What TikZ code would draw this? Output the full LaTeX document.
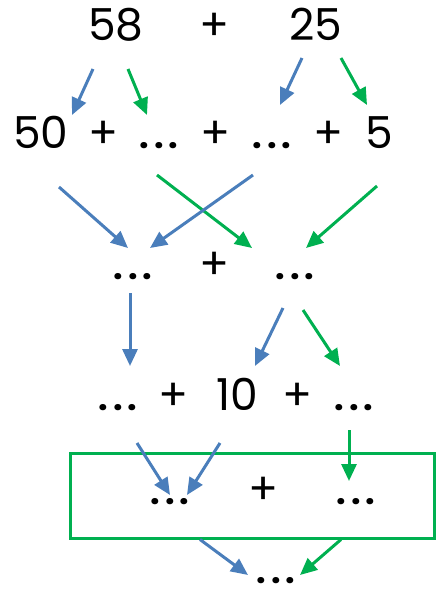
\documentclass[tikz,border=0pt]{standalone}
\usepackage{fontspec}
\setmainfont{Poppins}
\usetikzlibrary{arrows.meta, positioning}

\newcommand\dotgap{\hspace{5pt}}

\begin{document}
\begin{tikzpicture}[x=1pt, y=-1pt,
        every node/.style={font=\fontsize{44}{44}\selectfont, inner sep=0pt, anchor=base},
        every edge/.style={draw, line width=3, -{Triangle[length=17pt,width=15pt]}},
        blue arrow/.style={color=arrowblue},
        green arrow/.style={color=arrowgreen},
        gap/.style={font=\fontsize{34}{34}\selectfont\bfseries},
        sumbox/.style={draw=arrowgreen, line width=3, minimum width=364, minimum height=85, anchor=center},]

        \definecolor{arrowblue}{RGB}{74, 126, 187}
        \definecolor{arrowgreen}{RGB}{0, 176, 80}

        \useasboundingbox (0,0) rectangle (445,590);

        % first row
        \node (n58) at (116,40) {58};
        \node (p1) at (215,40) {+};
        \node (n25) at (316,40) {25};

        % second row
        \node (n50) at (41,148) {50};
        \node (p2) at (104,148) {+};
        \node[gap] (d1) at (159,148) {.\dotgap.\dotgap.};
        \node (p3) at (216,148) {+};
        \node[gap] (d2) at (272,148) {.\dotgap.\dotgap.};
        \node (p4) at (329,148) {+};
        \node (n5) at (379,148) {5};

        % third row
        \node[gap] (s1) at (133,279) {.\dotgap.\dotgap.};
        \node (p5) at (215,279) {+};
        \node[gap] (s2) at (295,279) {.\dotgap.\dotgap.};

        % fourth row
        \node[gap] (t1) at (118,410) {.\dotgap.\dotgap.};
        \node (p6) at (174,410) {+};
        \node (n10) at (237,410) {10};
        \node (p7) at (298,410) {+};
        \node[gap] (t2) at (354,410) {.\dotgap.\dotgap.};

        % boxed row
        \node[sumbox] (box) at (252,495.5) {};
        \node[gap] (u1) at (170,504) {.\dotgap.\dotgap.};
        \node (p8) at (264,504) {+};
        \node[gap] (u2) at (356,504) {.\dotgap.\dotgap.};

        \node[gap] (res) at (276,583) {.\dotgap.\dotgap.};

        \path[blue arrow] ([shift={(-23,29)}]n58.base) edge ([shift={(31,-33)}]n50.base);
        \path[green arrow] ([shift={(12,29)}]n58.base) edge ([shift={(-12,-33)}]d1.base);
        \path[blue arrow] ([shift={(-14,18)}]n25.base) edge ([shift={(8,-43)}]d2.base);
        \path[green arrow] ([shift={(25,18)}]n25.base) edge ([shift={(-12,-43)}]n5.base);

        \path[blue arrow] ([shift={(18,39)}]n50.base) edge ([shift={(-5,-31)}]s1.base);
        \path[green arrow] ([shift={(-2,27)}]d1.base) edge ([shift={(-43,-31)}]s2.base);
        \path[blue arrow] ([shift={(-19,27)}]d2.base) edge ([shift={(17,-31)}]s1.base);
        \path[green arrow] ([shift={(-2,38)}]n5.base) edge ([shift={(11,-31)}]s2.base);

        \path[blue arrow] ([shift={(-3,14)}]s1.base) edge ([shift={(12,-44)}]t1.base);
        \path[blue arrow] ([shift={(-12,29)}]s2.base) edge ([shift={(18,-44)}]n10.base);
        \path[green arrow] ([shift={(8,31)}]s2.base) edge ([shift={(-14,-44)}]t2.base);

        \path[blue arrow] ([shift={(19,33)}]t1.base) edge ([shift={(0,-9)}]u1.base);
        \path[blue arrow] ([shift={(-17,33)}]n10.base) edge ([shift={(17,-9)}]u1.base);
        \path[green arrow] ([shift={(-5,20)}]t2.base) edge ([shift={(-7,-23)}]u2.base);

        \path[blue arrow] ([xshift=-52]box.south) edge ([shift={(-28,-8)}]res.base);
        \path[green arrow] ([xshift=89]box.south) edge ([shift={(24,-8)}]res.base);

    \end{tikzpicture}
\end{document}
